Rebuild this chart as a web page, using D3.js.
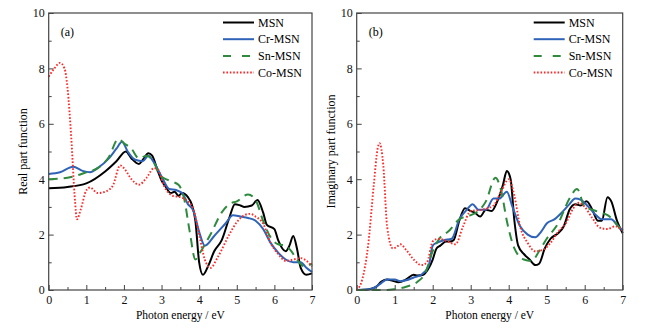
<!DOCTYPE html>
<html>
<head>
<meta charset="utf-8">
<script src="https://cdn.jsdelivr.net/npm/d3@7"></script>
<style>
body{margin:0;background:#fff;}
text{font-family:"Liberation Serif","Times New Roman",serif;}
</style>
</head>
<body>
<svg id="drawing_region"></svg>
<script>
// series names and tick values
const seriesNames = ['MSN','Cr-MSN','Sn-MSN','Co-MSN']
const xTicks = [0,1,2,3,4,5,6,7]
const yTicks = [0,2,4,6,8,10]

// real part, [photon energy, value]
const realMSN = [[0,3.67],[0.5,3.72],[1,3.85],[1.5,4.28],[1.8,4.65],[2.05,5.0],[2.2,4.75],[2.4,4.55],[2.5,4.7],[2.65,4.94],[2.75,4.85],[2.9,4.3],[3.0,3.95],[3.1,3.75],[3.25,3.5],[3.35,3.55],[3.45,3.4],[3.55,3.5],[3.7,3.35],[3.8,3.1],[3.9,2.5],[4.0,1.0],[4.1,0.55],[4.25,0.9],[4.4,1.4],[4.6,1.8],[4.8,2.6],[4.95,3.1],[5.1,3.05],[5.2,3.0],[5.4,3.05],[5.55,3.25],[5.7,2.8],[5.8,2.35],[6.0,2.2],[6.1,1.8],[6.3,1.4],[6.4,1.6],[6.5,1.95],[6.6,1.5],[6.7,0.8],[6.85,0.55],[7.0,0.6]]
const realCr = [[0,4.19],[0.3,4.25],[0.65,4.45],[0.9,4.3],[1.1,4.25],[1.3,4.4],[1.6,4.75],[1.8,5.1],[1.95,5.35],[2.1,5.0],[2.3,4.7],[2.5,4.65],[2.65,4.85],[2.8,4.6],[3.0,4.1],[3.2,3.65],[3.4,3.6],[3.55,3.5],[3.7,3.1],[3.85,2.85],[4.0,2.1],[4.15,1.6],[4.4,1.95],[4.7,2.4],[4.9,2.7],[5.1,2.65],[5.3,2.6],[5.5,2.5],[5.7,2.2],[5.9,1.7],[6.1,1.35],[6.3,1.1],[6.5,1.0],[6.7,1.0],[6.85,0.8],[7.0,0.65]]
const realSn = [[0,4.0],[0.5,4.05],[1.0,4.25],[1.3,4.4],[1.6,4.8],[1.85,5.45],[2.0,5.3],[2.2,5.1],[2.4,4.75],[2.6,4.85],[2.8,4.6],[2.95,4.15],[3.2,3.95],[3.45,3.8],[3.6,3.3],[3.75,2.1],[3.9,1.1],[4.0,1.3],[4.3,2.0],[4.6,2.8],[4.8,3.1],[5.0,3.2],[5.3,3.45],[5.5,3.25],[5.7,2.5],[5.9,1.9],[6.1,1.65],[6.3,1.6],[6.45,1.4],[6.6,1.1],[6.8,0.85],[7.0,0.95]]
const realCo = [[0,7.7],[0.15,8.0],[0.3,8.2],[0.42,8.0],[0.5,7.3],[0.6,5.5],[0.7,3.2],[0.75,2.55],[0.85,2.9],[1.0,3.6],[1.1,3.7],[1.3,3.5],[1.5,3.55],[1.7,3.75],[1.9,4.5],[2.0,4.4],[2.2,4.0],[2.4,3.8],[2.6,4.05],[2.8,4.4],[2.9,4.35],[3.05,3.8],[3.3,3.4],[3.5,3.35],[3.7,3.2],[3.85,2.9],[4.0,2.0],[4.15,1.1],[4.3,0.8],[4.5,1.2],[4.8,2.0],[5.0,2.45],[5.2,2.7],[5.35,2.75],[5.5,2.65],[5.7,2.4],[5.9,1.7],[6.1,1.3],[6.3,1.05],[6.5,1.1],[6.7,1.15],[6.9,1.0],[7.0,0.85]]

// imaginary part
const imagMSN = [[0,0],[0.3,0.02],[0.5,0.1],[0.65,0.3],[0.8,0.38],[0.95,0.33],[1.1,0.28],[1.3,0.38],[1.5,0.55],[1.6,0.52],[1.75,0.55],[1.9,0.8],[2.0,1.1],[2.1,1.5],[2.2,1.6],[2.35,1.75],[2.45,1.75],[2.55,1.8],[2.7,2.5],[2.85,2.95],[3.0,2.85],[3.1,2.8],[3.25,2.65],[3.4,2.9],[3.55,2.85],[3.7,3.2],[3.85,3.8],[3.95,4.3],[4.05,4.0],[4.15,2.5],[4.25,1.6],[4.4,1.3],[4.55,1.1],[4.7,0.9],[4.8,0.95],[4.95,1.5],[5.1,1.85],[5.3,2.05],[5.45,2.3],[5.6,2.9],[5.75,3.1],[5.9,3.05],[6.05,3.2],[6.2,2.9],[6.35,2.5],[6.45,2.5],[6.6,3.35],[6.7,3.2],[6.85,2.5],[7.0,2.05]]
const imagCr = [[0,0],[0.4,0.05],[0.6,0.2],[0.8,0.38],[1.0,0.38],[1.15,0.32],[1.3,0.35],[1.5,0.45],[1.7,0.55],[1.9,0.9],[2.0,1.6],[2.1,1.7],[2.3,1.8],[2.5,1.85],[2.7,2.55],[2.9,2.9],[3.05,3.1],[3.2,2.9],[3.4,2.9],[3.6,3.3],[3.75,3.3],[3.95,3.55],[4.1,3.0],[4.3,2.3],[4.5,2.0],[4.7,1.9],[4.85,2.1],[5.0,2.4],[5.2,2.55],[5.4,2.8],[5.6,3.1],[5.75,3.3],[5.9,3.25],[6.1,3.0],[6.3,2.7],[6.45,2.55],[6.7,2.55],[6.85,2.35],[7.0,2.15]]
const imagSn = [[0,0],[0.5,0],[0.8,0],[1.0,0.03],[1.3,0.12],[1.6,0.3],[1.8,0.6],[2.0,1.4],[2.2,1.9],[2.4,2.1],[2.7,2.55],[3.0,2.7],[3.2,2.85],[3.4,3.2],[3.65,4.05],[3.8,3.6],[3.95,2.5],[4.15,1.5],[4.4,1.1],[4.6,1.05],[4.8,1.4],[5.0,1.85],[5.3,2.4],[5.6,3.3],[5.8,3.65],[6.0,3.0],[6.2,2.9],[6.4,2.8],[6.6,2.7],[6.8,2.45],[7.0,2.05]]
const imagCo = [[0,0],[0.15,0.4],[0.3,1.6],[0.45,3.8],[0.55,5.1],[0.6,5.3],[0.7,4.5],[0.8,2.3],[0.95,1.5],[1.05,1.55],[1.15,1.65],[1.3,1.45],[1.5,1.1],[1.7,0.9],[1.85,1.0],[2.0,1.75],[2.15,1.85],[2.4,1.75],[2.6,1.65],[2.8,2.3],[3.0,2.85],[3.3,2.9],[3.6,3.05],[3.8,3.55],[4.0,4.0],[4.15,3.4],[4.3,2.3],[4.5,1.7],[4.7,1.4],[4.9,1.45],[5.1,1.7],[5.3,2.1],[5.5,2.4],[5.7,2.95],[5.85,3.15],[6.0,3.0],[6.2,2.6],[6.4,2.25],[6.6,2.2],[6.8,2.3],[7.0,2.15]]

const styles = [
    {color:'#000000', dash:null},
    {color:'#2f63b8', dash:null},
    {color:'#2e8b3e', dash:'9,6'},
    {color:'#ff2a2a', dash:'1.6,1.8'}
]

class PanelChart{
    constructor(config,data){
        this.config = config
        this.data = data
        this.init()
    }

    init(){
        let self = this
        const c = self.config
        self.g = c.svg.append('g')
        self.xscale = d3.scaleLinear().domain([0,7]).range([c.left,c.right])
        self.yscale = d3.scaleLinear().domain([0,10]).range([c.bottom,c.top])
        self.line = d3.line()
            .x(d => self.xscale(d[0]))
            .y(d => self.yscale(d[1]))
            .curve(d3.curveMonotoneX)
    }

    render(){
        let self = this
        const c = self.config

        // minor ticks
        const xaxisMinor = d3.axisBottom(self.xscale).tickValues(d3.range(0.5,7,1)).tickSize(-3).tickFormat(() => '')
        const yaxisMinor = d3.axisLeft(self.yscale).tickValues(d3.range(1,10,2)).tickSize(-3).tickFormat(() => '')
        const xaxis = d3.axisBottom(self.xscale).tickValues(xTicks).tickSize(-5).tickPadding(5).tickSizeOuter(0).tickFormat(d3.format('d'))
        const yaxis = d3.axisLeft(self.yscale).tickValues(yTicks).tickSize(-5).tickPadding(4).tickSizeOuter(0).tickFormat(d3.format('d'))

        const gx = self.g.append('g').attr('transform',`translate(0,${c.bottom})`)
        gx.call(xaxis)
        const gxm = self.g.append('g').attr('transform',`translate(0,${c.bottom})`)
        gxm.call(xaxisMinor)
        const gy = self.g.append('g').attr('transform',`translate(${c.left},0)`)
        gy.call(yaxis)
        const gym = self.g.append('g').attr('transform',`translate(${c.left},0)`)
        gym.call(yaxisMinor)
        gxm.selectAll('text').remove()
        gym.selectAll('text').remove()

        self.g.selectAll('.domain').remove()
        self.g.selectAll('.tick line').attr('stroke','#444').attr('stroke-width',1)
        self.g.selectAll('.tick text').attr('font-size',12).attr('fill','#111')
            .attr('font-family','"Liberation Serif", serif')

        self.g.append('g').selectAll('path').data(self.data).enter()
            .append('path')
            .attr('d', d => self.line(d))
            .attr('fill','none')
            .attr('stroke',(d,i) => styles[i].color)
            .attr('stroke-width',(d,i) => i == 3 ? 1.9 : 2)
            .attr('stroke-dasharray',(d,i) => styles[i].dash)

        self.g.append('rect')
            .attr('x',c.left).attr('y',c.top)
            .attr('width',c.right - c.left).attr('height',c.bottom - c.top)
            .attr('fill','none').attr('stroke','#444').attr('stroke-width',1.2)

        // legend
        const lg = self.g.append('g').selectAll('g').data(seriesNames).enter().append('g')
            .attr('transform',(d,i) => `translate(${c.right - 89},${22.5 + i*16.7})`)
        lg.append('line')
            .attr('x1',0).attr('x2',31).attr('y1',0).attr('y2',0)
            .attr('stroke',(d,i) => styles[i].color)
            .attr('stroke-width',2)
            .attr('stroke-dasharray',(d,i) => styles[i].dash == null ? null : (i == 2 ? '8,11' : '1.6,1.8'))
        lg.append('text')
            .attr('x',35).attr('y',4)
            .attr('font-size',12)
            .text(d => d)

        self.g.append('text')
            .attr('x',c.left + 12).attr('y',36)
            .attr('font-size',12)
            .text(c.label)

        self.g.append('text')
            .attr('x',(c.left + c.right)/2).attr('y',319)
            .attr('text-anchor','middle')
            .attr('font-size',11.5)
            .text('Photon energy / eV')

        self.g.append('text')
            .attr('transform',`translate(${c.left - 22},${(c.top + c.bottom)/2}) rotate(-90)`)
            .attr('text-anchor','middle')
            .attr('font-size',12)
            .text(c.ytitle)
    }
}

const svg = d3.select('#drawing_region').attr('width',647).attr('height',330)

const left = new PanelChart({svg:svg, left:48.7, right:312, top:13, bottom:290, label:'(a)', ytitle:'Real part function'},
    [realMSN,realCr,realSn,realCo])
left.render()

const right = new PanelChart({svg:svg, left:356.7, right:622.7, top:13, bottom:290, label:'(b)', ytitle:'Imaginary part function'},
    [imagMSN,imagCr,imagSn,imagCo])
right.render()
</script>
</body>
</html>
